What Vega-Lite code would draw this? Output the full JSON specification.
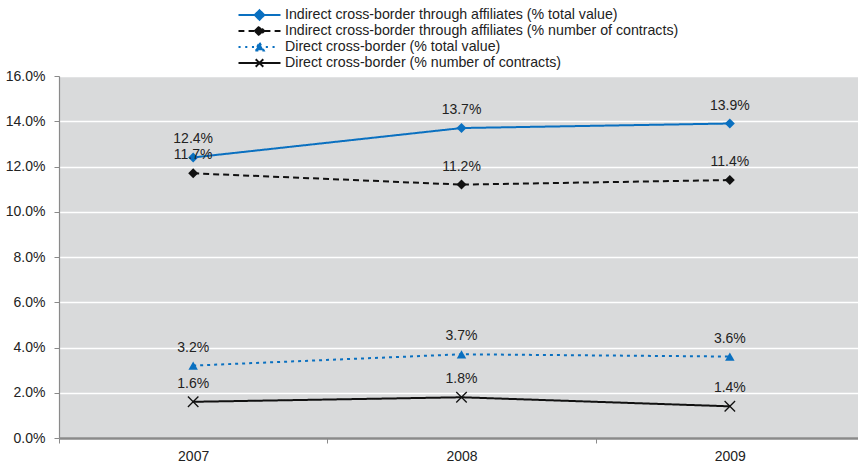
{
  "$schema": "https://vega.github.io/schema/vega-lite/v6.json",
  "autosize": "none",
  "width": 799,
  "height": 362,
  "padding": {"left": 59, "top": 76, "right": 0, "bottom": 28},
  "background": "#ffffff",
  "config": {
    "view": {"fill": "#d9dadb", "stroke": null},
    "font": "Liberation Sans",
    "axis": {"labelFont": "Liberation Sans", "labelFontSize": 14, "labelColor": "#222222", "title": null}
  },
  "data": {
    "values": [
      {"year": "2007", "series": "Indirect cross-border through affiliates (% total value)", "value": 0.124},
      {"year": "2008", "series": "Indirect cross-border through affiliates (% total value)", "value": 0.137},
      {"year": "2009", "series": "Indirect cross-border through affiliates (% total value)", "value": 0.139},
      {"year": "2007", "series": "Indirect cross-border through affiliates (% number of contracts)", "value": 0.117},
      {"year": "2008", "series": "Indirect cross-border through affiliates (% number of contracts)", "value": 0.112},
      {"year": "2009", "series": "Indirect cross-border through affiliates (% number of contracts)", "value": 0.114},
      {"year": "2007", "series": "Direct cross-border (% total value)", "value": 0.032},
      {"year": "2008", "series": "Direct cross-border (% total value)", "value": 0.037},
      {"year": "2009", "series": "Direct cross-border (% total value)", "value": 0.036},
      {"year": "2007", "series": "Direct cross-border (% number of contracts)", "value": 0.016},
      {"year": "2008", "series": "Direct cross-border (% number of contracts)", "value": 0.018},
      {"year": "2009", "series": "Direct cross-border (% number of contracts)", "value": 0.014}
    ]
  },
  "encoding": {
    "x": {
      "field": "year", "type": "ordinal",
      "scale": {"range": [0, 805], "paddingInner": 0, "paddingOuter": 0},
      "axis": {"labelAngle": 0, "tickBand": "extent", "domainColor": "#8a8a8a", "domainWidth": 2.5, "tickColor": "#8a8a8a", "tickSize": 5, "labelPadding": 6, "grid": false}
    },
    "y": {
      "field": "value", "type": "quantitative",
      "scale": {"domain": [0, 0.16], "nice": false},
      "axis": {"format": ".1%", "values": [0, 0.02, 0.04, 0.06, 0.08, 0.1, 0.12, 0.14, 0.16], "grid": true, "gridColor": "#ffffff", "gridWidth": 1.5, "domainColor": "#8a8a8a", "domainWidth": 1.2, "tickColor": "#8a8a8a", "tickSize": 5, "labelPadding": 9}
    }
  },
  "layer": [
    {
      "mark": {"type": "line", "strokeWidth": 2},
      "encoding": {
        "color": {
          "field": "series", "type": "nominal",
          "scale": {
            "domain": ["Indirect cross-border through affiliates (% total value)", "Indirect cross-border through affiliates (% number of contracts)", "Direct cross-border (% total value)", "Direct cross-border (% number of contracts)"],
            "range": ["#0a70c0", "#111111", "#0a70c0", "#111111"]
          },
          "legend": {
            "title": null,
            "orient": "none",
            "legendX": 178,
            "legendY": -69,
            "symbolSize": 1764,
            "symbolType": "circle",
            "labelFont": "Liberation Sans",
            "labelFontSize": 14.2,
            "labelColor": "#222222",
            "labelOffset": 3,
            "labelLimit": 0,
            "rowPadding": 0,
            "clipHeight": 16,
            "encode": {
              "symbols": {
                "update": {
                  "shape": {"signal": "['M-1,0H1M-0.22,0L0,-0.22L0.22,0L0,0.22Z', 'M-1,0H-0.72M-0.52,0H-0.24M0.24,0H0.52M0.72,0H1M-0.22,0L0,-0.22L0.22,0L0,0.22Z', 'M-1,0H-0.9M-0.68,0H-0.58M-0.36,0H-0.26M0.3,0H0.4M0.62,0H0.72M0,-0.2L0.2,0.16L-0.2,0.16Z', 'M-1,0H1M-0.18,-0.18L0.18,0.18M-0.18,0.18L0.18,-0.18'][datum.index]"},
                  "size": {"value": 1764},
                  "fill": {"signal": "['#0a70c0','#111111','#0a70c0','#111111'][datum.index]"},
                  "stroke": {"signal": "['#0a70c0','#111111','#0a70c0','#111111'][datum.index]"},
                  "strokeWidth": {"signal": "[2,2,3,1.6][datum.index]"},
                  "strokeDash": {"value": []},
                  "opacity": {"value": 1}
                }
              }
            }
          }
        },
        "strokeDash": {
          "field": "series", "type": "nominal",
          "scale": {
            "domain": ["Indirect cross-border through affiliates (% total value)", "Indirect cross-border through affiliates (% number of contracts)", "Direct cross-border (% total value)", "Direct cross-border (% number of contracts)"],
            "range": [[1, 0], [6, 4], [3, 4], [1, 0]]
          },
          "legend": null
        },
        "strokeWidth": {
          "field": "series", "type": "nominal",
          "scale": {
            "domain": ["Indirect cross-border through affiliates (% total value)", "Indirect cross-border through affiliates (% number of contracts)", "Direct cross-border (% total value)", "Direct cross-border (% number of contracts)"],
            "range": [2.2, 2, 3.4, 2]
          },
          "legend": null
        }
      }
    },
    {
      "transform": [{"filter": {"field": "series", "oneOf": ["Indirect cross-border through affiliates (% total value)", "Indirect cross-border through affiliates (% number of contracts)"]}}],
      "mark": {"type": "point", "shape": "diamond", "filled": true, "opacity": 1, "size": 100},
      "encoding": {
        "color": {"field": "series", "type": "nominal", "legend": null}
      }
    },
    {
      "transform": [{"filter": {"field": "series", "equal": "Direct cross-border (% total value)"}}],
      "mark": {"type": "point", "shape": "triangle-up", "filled": true, "opacity": 1, "size": 90},
      "encoding": {
        "color": {"field": "series", "type": "nominal", "legend": null}
      }
    },
    {
      "transform": [{"filter": {"field": "series", "equal": "Direct cross-border (% number of contracts)"}}],
      "mark": {"type": "point", "shape": "M-1,-1L1,1M-1,1L1,-1", "filled": false, "opacity": 1, "size": 110, "strokeWidth": 1.3},
      "encoding": {
        "color": {"field": "series", "type": "nominal", "legend": null}
      }
    },
    {
      "mark": {"type": "text", "dy": -18, "baseline": "middle", "align": "center", "fontSize": 14, "font": "Liberation Sans", "color": "#222222"},
      "encoding": {
        "text": {"field": "value", "type": "quantitative", "format": ".1%"}
      }
    }
  ]
}
